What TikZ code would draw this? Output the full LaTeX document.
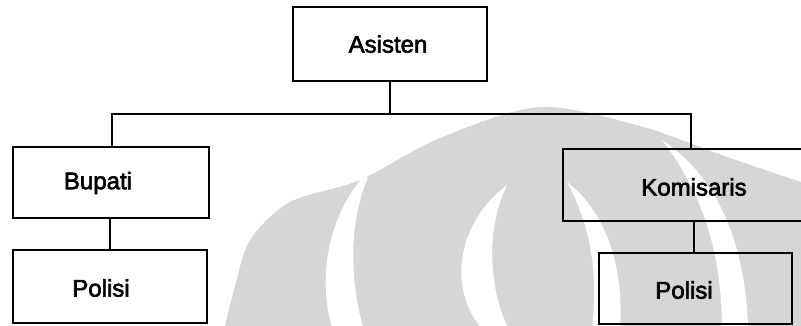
\documentclass[tikz,border=0pt]{standalone}
\usepackage{fontspec}
\setmainfont{Liberation Sans}
\newfontfamily\lblfont{Liberation Sans}[FakeBold=2.5]
\definecolor{wmgray}{RGB}{214,214,214}
\begin{document}
\begin{tikzpicture}[x=1pt,y=-1pt,
  box/.style={draw=black, line width=2.2pt, inner sep=0pt, rectangle},
  link/.style={draw=black, line width=2.2pt},
  lbl/.style={font=\lblfont\fontsize{24}{28}\selectfont, text=black, inner sep=0pt},
  wm/.style={fill=wmgray},
  gap/.style={fill=white}]
\useasboundingbox (0,0) rectangle (801,326);
\begin{scope}
\clip (0,0) rectangle (801,326);
% faint logo in the background
\fill[wm] plot[smooth] coordinates {(224,330) (234,290) (250,240) (290,202) (360,180) (440,138) (540,107) (640,126) (730,158) (801,182)} -- (801,330) -- cycle;
\fill[gap] (364,176) .. controls (325,220) and (318,285) .. (333,330) -- (364,330) .. controls (350,285) and (348,222) .. (368,178) -- cycle;
\fill[gap] (507,185) .. controls (458,222) and (446,288) .. (483,330) -- (509,330) .. controls (488,288) and (486,228) .. (507,185) -- cycle;
\fill[gap] (567,182) .. controls (610,215) and (624,275) .. (620,330) -- (592,330) .. controls (598,275) and (592,228) .. (567,182) -- cycle;
\fill[gap] (662,140) .. controls (715,175) and (746,240) .. (748,330) -- (722,330) .. controls (722,252) and (702,192) .. (662,140) -- cycle;

% boxes
\node[box, minimum width=194pt, minimum height=74pt] (asisten) at (390,44) {};
\node[box, minimum width=196pt, minimum height=71pt] (bupati) at (111,182.5) {};
\node[box, minimum width=194pt, minimum height=73pt] (polisiL) at (110,286.5) {};
\node[box, minimum width=254pt, minimum height=72pt] (komisaris) at (690,185) {};
\node[box, minimum width=193pt, minimum height=71pt] (polisiR) at (695.5,288.5) {};

% labels
\node[lbl] (tA) at (388,44) {Asisten};
\node[lbl] (tB) at (98,183) {Bupati};
\node[lbl] (tP1) at (101,288) {Polisi};
\node[lbl] (tK) at (694,187) {Komisaris};
\node[lbl] (tP2) at (684,290) {Polisi};

% connectors
\coordinate (busL) at (112,114);
\coordinate (busR) at (691,114);
\draw[link] (asisten.south) -- (asisten.south |- busL);
\draw[link] (bupati.north -| busL) -- (busL) -- (busR) -- (komisaris.north -| busR);
\draw[link] (polisiL.north) -- (polisiL.north |- bupati.south);
\draw[link] (polisiR.north -| tK) -- (tK |- komisaris.south);
\end{scope}
\end{tikzpicture}
\end{document}
